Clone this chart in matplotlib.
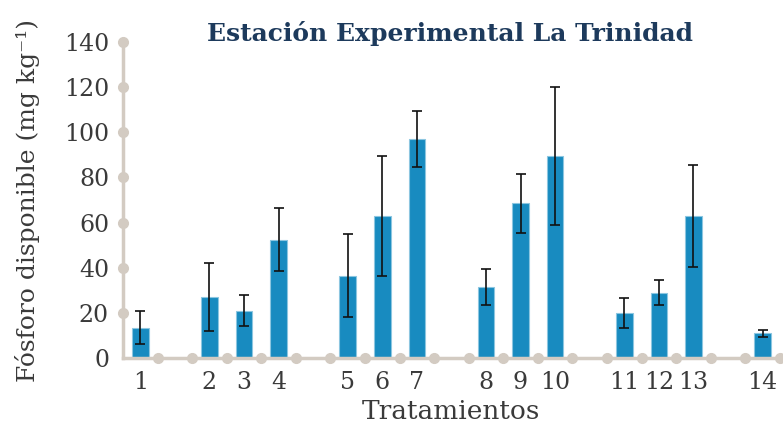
import numpy as np
import matplotlib.pyplot as plt

# treatments and their slot on the x axis (empty slots separate groups)
labels = ["1", "2", "3", "4", "5", "6", "7", "8", "9", "10", "11", "12", "13", "14"]
slots = [0, 2, 3, 4, 6, 7, 8, 10, 11, 12, 14, 15, 16, 18]
fosforo = [13.5, 27, 21, 52.5, 36.5, 63, 97, 31.5, 68.5, 89.5, 20, 29, 63, 11]
error = [7.5, 15, 7, 14, 18.5, 26.5, 12.5, 8, 13, 30.5, 6.5, 5.5, 22.5, 1.5]
yticks = [0, 20, 40, 60, 80, 100, 120, 140]

bar_color = "#188bc0"
axis_color = "#d3cbc2"
text_color = "#3a3a3a"

plt.rcParams["font.family"] = ["DejaVu Serif"]

fig = plt.figure(figsize=(7.83, 4.29), dpi=100)
ax = fig.add_axes([0.157, 0.1655, 0.839, 0.7365])

ax.bar(slots, fosforo, width=0.48, color=bar_color, edgecolor="#8cc6e0",
       linewidth=0.8, zorder=2)
ax.errorbar(slots, fosforo, yerr=error, fmt="none", ecolor="#111111",
            elinewidth=1.2, capsize=3.5, capthick=1.2, zorder=3)

ax.set_xlim(-0.5, 18.5)
ax.set_ylim(0, 140)

for s in ["top", "right"]:
    ax.spines[s].set_visible(False)
for s in ["left", "bottom"]:
    ax.spines[s].set_color(axis_color)
    ax.spines[s].set_linewidth(2.5)

# dots along the axes
xdots = np.arange(0.5, 19, 1.0)
ax.plot(xdots, np.zeros_like(xdots), "o", color=axis_color, markersize=7,
        clip_on=False, zorder=4)
ax.plot(np.full(len(yticks) - 1, -0.5), yticks[1:], "o", color=axis_color,
        markersize=7, clip_on=False, zorder=4)

ax.set_xticks(slots)
ax.set_xticklabels(labels)
ax.set_yticks(yticks)
ax.tick_params(axis="both", length=0, labelsize=17, colors=text_color)
ax.tick_params(axis="x", pad=9)
ax.tick_params(axis="y", pad=10)

ax.set_xlabel("Tratamientos", fontsize=19, color=text_color, labelpad=4)
ax.set_ylabel("Fósforo disponible (mg kg⁻¹)", fontsize=18,
              color=text_color, labelpad=17)
fig.text(0.575, 0.923, "Estación Experimental La Trinidad", ha="center",
         va="center", fontsize=18, fontweight="bold", color="#1d3a5c")

fig.savefig("out.png", dpi=100)
